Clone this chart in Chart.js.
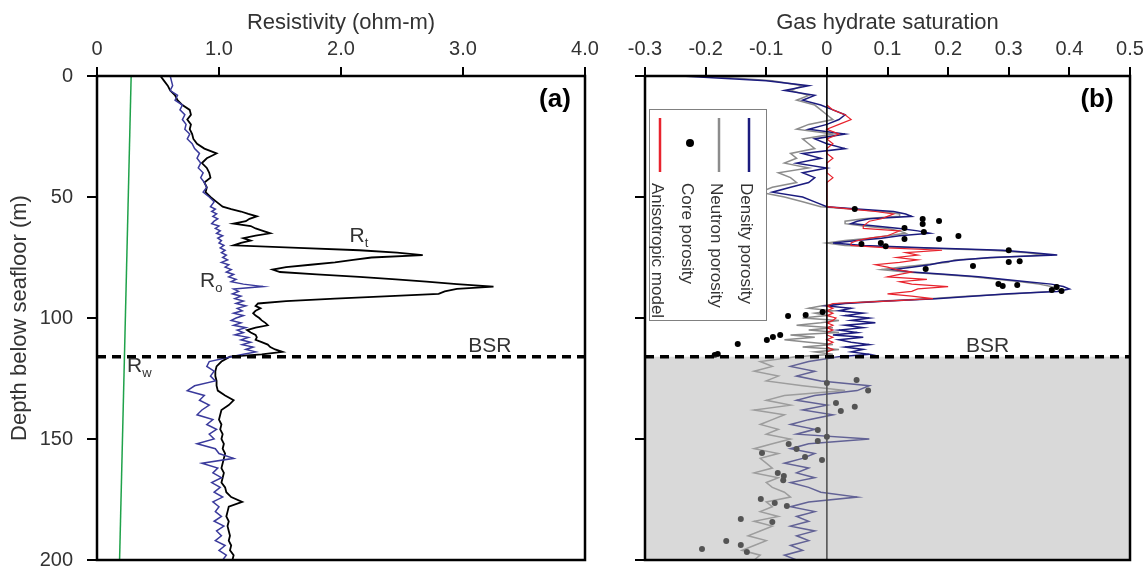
<!DOCTYPE html>
<html>
<head>
<meta charset="utf-8">
<script src="https://cdn.jsdelivr.net/npm/chart.js@4.4.1/dist/chart.umd.min.js"></script>
<style>
  html, body { margin: 0; padding: 0; background: #fff; }
  #wrap { position: relative; width: 1148px; height: 571px; overflow: hidden; }
  #chartA { position: absolute; left: 0; top: 0; }
  #chartB { position: absolute; left: 600px; top: 0; }
</style>
</head>
<body>
<div id="wrap">
  <canvas id="chartA" width="640" height="571"></canvas>
  <canvas id="chartB" width="548" height="571"></canvas>
</div>
<script>
/* Bohrloch-Logs: (a) Widerstand, (b) Gashydrat-Sättigung */

// Tiefenstützstellen (m), gemeinsam für alle Logkurven
const depth = [0, 2, 4, 6, 8, 10, 12, 14, 16, 18, 20, 22, 24, 26, 28, 30, 32, 34, 36, 38, 40, 42, 44, 46, 48, 50, 52,
  54, 55, 56, 57, 58, 59, 60, 61, 62, 63, 64, 65, 66, 67, 68, 69, 70, 71, 72, 73, 74, 75, 76, 77, 78, 79, 80,
  81, 82, 83, 84, 85, 86, 87, 88, 89, 90, 91, 92, 93, 94, 95, 96, 97, 98, 99, 100, 101, 102, 103, 104, 105,
  106, 107, 108, 109, 110, 111, 112, 113, 114, 115, 116,
  118, 120, 122, 124, 126, 128, 130, 132, 134, 136, 138, 140, 142, 144, 146, 148, 150, 152, 154, 156, 158,
  160, 162, 164, 166, 168, 170, 172, 174, 176, 178, 180, 182, 184, 186, 188, 190, 192, 194, 196, 198, 200];

// Panel (a): gemessener Widerstand Rt und Referenz Ro (ohm-m)
const rt = [0.52, 0.55, 0.58, 0.60, 0.64, 0.66, 0.70, 0.76, 0.77, 0.74, 0.77, 0.76, 0.78, 0.79, 0.82, 0.88, 0.98, 0.90, 0.86, 0.90, 0.92, 0.93, 0.88, 0.90, 0.89, 0.93, 0.98,
  1.03, 1.10, 1.18, 1.24, 1.31, 1.25, 1.22, 1.12, 1.26, 1.30,
  1.36, 1.42, 1.30, 1.20, 1.26, 1.18, 1.12, 1.65, 2.15, 2.46,
  2.67, 2.25, 2.10, 1.95, 1.75, 1.55, 1.44, 1.50, 1.80, 2.15,
  2.45, 2.70, 2.95, 3.25, 2.95, 2.85, 2.80, 2.40, 1.95, 1.55,
  1.32, 1.30, 1.34, 1.30, 1.28, 1.30, 1.33, 1.35, 1.38, 1.40,
  1.30, 1.23, 1.26, 1.30, 1.31, 1.30, 1.35, 1.40, 1.42, 1.46,
  1.52, 1.35, 1.09,
  1.02, 0.98, 0.97, 0.97, 0.98, 0.98, 0.99, 1.05, 1.12, 1.08, 1.02, 1.01, 1.00, 1.02, 1.01, 1.03, 1.02, 1.04, 1.03, 1.05, 1.04,
  1.03, 1.02, 1.04, 1.03, 1.02, 1.05, 1.06, 1.10, 1.19, 1.08, 1.07, 1.06, 1.08, 1.07, 1.08, 1.09, 1.08, 1.10, 1.09, 1.12, 1.11];

const ro = [0.60, 0.61, 0.62, 0.60, 0.66, 0.64, 0.70, 0.68, 0.72, 0.70, 0.73, 0.72, 0.76, 0.74, 0.78, 0.80, 0.84, 0.82, 0.85, 0.83, 0.87, 0.85, 0.88, 0.90, 0.87, 0.92, 0.96,
  0.93, 0.97, 0.94, 0.98, 0.95, 0.99, 0.96, 0.94, 1.00, 0.97,
  1.01, 0.98, 1.03, 0.99, 1.02, 1.00, 1.04, 1.01, 1.05, 1.02,
  1.06, 1.03, 1.07, 1.02, 1.08, 1.05, 1.10, 1.06, 1.12, 1.08,
  1.14, 1.10, 1.20, 1.36, 1.12, 1.16, 1.11, 1.18, 1.13, 1.20,
  1.14, 1.22, 1.15, 1.19, 1.12, 1.20, 1.14, 1.10, 1.18, 1.12,
  1.22, 1.15, 1.20, 1.13, 1.24, 1.18, 1.26, 1.19, 1.28, 1.22,
  1.30, 1.20, 1.10,
  0.92, 0.90, 0.96, 0.93, 0.97, 0.80, 0.74, 0.88, 0.84, 0.92, 0.86, 0.82, 0.95, 0.90, 0.98, 0.92, 0.96, 0.82, 0.97, 1.00, 1.12,
  0.86, 0.99, 0.95, 1.02, 0.94, 1.01, 0.96, 1.03, 0.95, 1.00, 0.97, 1.02, 0.96, 1.04, 0.98, 1.02, 0.97, 1.05, 1.00, 1.06, 1.03];

// Porenwasser-Widerstand Rw (Gerade)
const rwDepth = [0, 200];
const rw = [0.28, 0.185];

// Panel (b): Sättigung aus Dichte-, Neutron-Porosität und anisotropem Modell
const densitySat = [-0.24, -0.10, -0.03, -0.07, -0.02, -0.04, -0.01, 0.01, 0.03, 0.02, 0.00, -0.03, 0.03, -0.02, 0.00, 0.03, -0.04, -0.01, -0.05, 0.00, -0.04, -0.02, -0.03, -0.06, -0.09, -0.04, -0.02,
  0.00, 0.05, 0.11, 0.13, 0.14, 0.07, 0.05, 0.04, 0.08, 0.12,
  0.15, 0.17, 0.12, 0.09, 0.05, 0.01, 0.06, 0.16, 0.29, 0.34,
  0.38, 0.27, 0.22, 0.19, 0.17, 0.14, 0.11, 0.14, 0.20, 0.25,
  0.29, 0.33, 0.37, 0.39, 0.40, 0.38, 0.30, 0.24, 0.18, 0.10,
  0.03, 0.00, 0.04, 0.02, 0.06, 0.03, 0.07, 0.04, 0.08, 0.03,
  0.06, 0.02, 0.05, 0.01, 0.06, 0.02, 0.04, 0.07, 0.03, 0.06,
  0.04, 0.07, 0.02,
  -0.03, -0.06, -0.02, -0.05, -0.01, 0.07, 0.05, -0.02, -0.05, 0.00, -0.04, 0.01, -0.03, -0.06, -0.02, -0.05, 0.07, -0.03, -0.06, -0.02,
  -0.04, -0.07, -0.03, -0.05, -0.02, -0.06, -0.03, -0.01, 0.05, -0.03, -0.06, -0.02, -0.05, -0.03, -0.06, -0.02, -0.05, -0.03, -0.06, -0.04, -0.07, -0.05];

const neutronSat = [-0.20, -0.09, -0.04, -0.06, -0.03, -0.05, -0.02, -0.01, 0.00, 0.01, -0.03, -0.05, 0.01, -0.04, -0.03, -0.02, -0.06, -0.05, -0.07, -0.03, -0.08, -0.06, -0.05, -0.09, -0.11, -0.07, -0.04,
  -0.01, 0.04, 0.09, 0.12, 0.12, 0.06, 0.03, 0.03, 0.06, 0.10,
  0.12, 0.13, 0.10, 0.07, 0.03, 0.00, 0.03, 0.14, 0.27, 0.33,
  0.36, 0.28, 0.21, 0.20, 0.16, 0.12, 0.09, 0.13, 0.19, 0.24,
  0.28, 0.32, 0.35, 0.37, 0.38, 0.37, 0.31, 0.23, 0.17, 0.09,
  0.02, -0.01, -0.03, 0.01, -0.02, 0.00, -0.04, 0.02, -0.01, -0.05,
  0.01, -0.03, 0.02, -0.06, -0.02, -0.07, -0.03, 0.01, -0.04, 0.02,
  -0.02, 0.01, -0.05,
  -0.11, -0.09, -0.12, -0.08, -0.10, -0.04, 0.03, -0.07, -0.10, -0.06, -0.12, -0.07, -0.09, -0.11, -0.08, -0.10, -0.06, -0.09, -0.12, -0.08,
  -0.11, -0.10, -0.09, -0.12, -0.08, -0.10, -0.09, -0.07, -0.06, -0.10, -0.09, -0.11, -0.08, -0.12, -0.09, -0.11, -0.13, -0.10, -0.12, -0.14, -0.11, -0.12];

// Modell nur zwischen 12 m und BSR (null = kein Wert)
const modelSat = [null, null, null, null, null, null, 0.00, 0.01, 0.03, 0.04, 0.02, 0.00, 0.02, 0.00, 0.01, 0.00, 0.00, 0.01, 0.00, 0.00, 0.00, 0.01, 0.00, 0.00, 0.00, 0.00, 0.00,
  0.00, 0.04, 0.08, 0.11, 0.10, 0.09, 0.07, 0.065, 0.06, 0.06,
  0.12, 0.11, 0.10, 0.07, 0.05, 0.04, 0.04, 0.10, 0.19, 0.13,
  0.15, 0.115, 0.15, 0.12, 0.08, 0.10, 0.115, 0.14, 0.12, 0.10,
  0.165, 0.12, 0.14, 0.20, 0.15, 0.14, 0.10, 0.14, 0.175, 0.10,
  0.01, 0.00, 0.01, 0.00, 0.01, 0.00, 0.015, 0.01, 0.00, 0.01,
  0.00, 0.01, 0.00, 0.00, 0.01, 0.00, 0.01, 0.00, 0.00, 0.01,
  0.00, 0.00, 0.00,
  null, null, null, null, null, null, null, null, null, null, null, null, null, null, null, null, null, null, null, null, null,
  null, null, null, null, null, null, null, null, null, null, null, null, null, null, null, null, null, null, null, null, null];

// Kernporositäts-Punkte
const coreDepth = [55.0, 59.1, 59.9, 61.2, 62.8, 64.5, 66.1, 67.4, 67.4, 69.0, 69.4, 70.4, 72.0, 76.5, 76.9, 78.5, 79.8,
  86.0, 86.4, 86.8, 87.2, 88.4, 88.8, 97.5, 98.8, 99.2, 107.0, 107.9, 109.1, 110.7, 114.9, 115.3,
  125.6, 126.9, 130.0, 135.1, 136.7, 138.4, 146.3, 149.1, 150.8, 152.1, 154.1, 155.8, 157.4, 158.7,
  164.0, 165.3, 167.0, 174.8, 176.4, 177.7, 183.1, 184.3, 192.1, 193.8, 195.5, 196.7];
const coreSat = [0.046, 0.158, 0.185, 0.158, 0.128, 0.160, 0.217, 0.185, 0.128, 0.089, 0.057, 0.097, 0.300, 0.318, 0.300, 0.241, 0.163,
  0.283, 0.314, 0.290, 0.379, 0.371, 0.387, -0.007, -0.035, -0.064, -0.077, -0.089, -0.099, -0.147, -0.180, -0.185,
  0.049, 0.000, 0.068, 0.015, 0.046, 0.023, -0.015, 0.000, -0.015, -0.063, -0.050, -0.107, -0.036, -0.008,
  -0.081, -0.071, -0.072, -0.109, -0.086, -0.066, -0.142, -0.090, -0.166, -0.142, -0.206, -0.132];

// Nulllinie in (b)
const zeroDepth = [0, 200];
const zeroSat = [0, 0];

const bsrDepth = 116;

const depthTicks = [0, 50, 100, 150, 200];
const depthTickLabels = ["0", "50", "100", "150", "200"];
const resTicks = [0, 1, 2, 3, 4];
const resTickLabels = ["0", "1.0", "2.0", "3.0", "4.0"];
const satTicks = [-0.3, -0.2, -0.1, 0, 0.1, 0.2, 0.3, 0.4, 0.5];
const satTickLabels = ["-0.3", "-0.2", "-0.1", "0", "0.1", "0.2", "0.3", "0.4", "0.5"];

const legendLabels = ["Density porosity", "Neutron porosity", "Core porosity", "Anisotropic model"];

const FONT = "'Liberation Sans', Arial, Helvetica, sans-serif";
const TXT = "#333";
const C = {
  rt: "#000000",
  ro: "#3a3a9c",
  rw: "#1fa24a",
  density: "#1b1b7e",
  neutron: "#8c8c8c",
  core: "#000000",
  model: "#e8232d",
};

// Wertepaare {x: Wert, y: Tiefe}, fehlende Werte raus
function pts(values, depths) {
  return depths.map((d, i) => ({ x: values[i], y: d })).filter((p) => p.x !== null);
}

function topAxis(min, max, ticks, labels, title) {
  return {
    type: "linear", position: "top", min: min, max: max,
    afterBuildTicks: (s) => { s.ticks = ticks.map((v) => ({ value: v })); },
    afterFit: (s) => { s.height = 76; s.paddingLeft = 0; s.paddingRight = 0; },
    ticks: {
      callback: (v, i) => labels[i], autoSkip: false, maxRotation: 0,
      font: { family: FONT, size: 20 }, color: TXT, padding: 6,
    },
    grid: { drawOnChartArea: false, tickLength: 9, color: "#000", lineWidth: 2 },
    border: { display: false },
    title: { display: true, text: title, color: TXT, font: { family: FONT, size: 22 }, padding: { top: 10, bottom: 0 } },
  };
}

function depthAxis(width, withLabels) {
  return {
    type: "linear", position: "left", min: 0, max: 200, reverse: true,
    afterBuildTicks: (s) => { s.ticks = depthTicks.map((v) => ({ value: v })); },
    afterFit: (s) => { s.width = width; s.paddingTop = 0; s.paddingBottom = 0; },
    ticks: {
      display: withLabels, callback: (v, i) => depthTickLabels[i], autoSkip: false,
      font: { family: FONT, size: 20 }, color: TXT, padding: 14,
    },
    grid: { drawOnChartArea: false, tickLength: 10, color: "#000", lineWidth: 2 },
    border: { display: false },
    title: {
      display: withLabels, text: "Depth below seafloor (m)", color: TXT,
      font: { family: FONT, size: 22 }, padding: { top: 7, bottom: 0 },
    },
  };
}

function baseOptions(padRight, xScale, yScale) {
  return {
    indexAxis: "y",
    responsive: false,
    animation: false,
    events: [],
    layout: { padding: { left: 0, top: 0, right: padRight, bottom: 11 } },
    plugins: { legend: { display: false }, tooltip: { enabled: false } },
    elements: { point: { radius: 0 }, line: { tension: 0 } },
    scales: { x: xScale, y: yScale },
  };
}

function drawBsr(ctx, a, y) {
  const py = y.getPixelForValue(bsrDepth);
  ctx.save();
  ctx.strokeStyle = "#000";
  ctx.lineWidth = 3.5;
  ctx.setLineDash([9, 6]);
  ctx.beginPath();
  ctx.moveTo(a.left, py);
  ctx.lineTo(a.right, py);
  ctx.stroke();
  ctx.restore();
  return py;
}

function drawFrame(ctx, a) {
  ctx.save();
  ctx.strokeStyle = "#000";
  ctx.lineWidth = 2.5;
  ctx.strokeRect(a.left, a.top, a.right - a.left, a.bottom - a.top);
  ctx.restore();
}

// "R" mit tiefgestelltem Index
function subLabel(ctx, main, sub, px, py) {
  ctx.font = `21px ${FONT}`;
  ctx.textAlign = "left";
  ctx.textBaseline = "alphabetic";
  ctx.fillText(main, px, py);
  const w = ctx.measureText(main).width;
  ctx.font = `13px ${FONT}`;
  ctx.fillText(sub, px + w, py + 5);
}

function textAt(ctx, txt, px, py, font) {
  ctx.font = font;
  ctx.textAlign = "center";
  ctx.textBaseline = "alphabetic";
  ctx.fillText(txt, px, py);
}

const panelA = {
  id: "panelA",
  afterDatasetsDraw(chart) {
    const { ctx, chartArea: a, scales: { x, y } } = chart;
    drawBsr(ctx, a, y);
    drawFrame(ctx, a);
    ctx.save();
    ctx.fillStyle = TXT;
    subLabel(ctx, "R", "t", x.getPixelForValue(2.07), y.getPixelForValue(68.6));
    subLabel(ctx, "R", "o", x.getPixelForValue(0.845), y.getPixelForValue(87.2));
    subLabel(ctx, "R", "w", x.getPixelForValue(0.246), y.getPixelForValue(122.3));
    textAt(ctx, "BSR", x.getPixelForValue(3.22), y.getPixelForValue(114), `21px ${FONT}`);
    ctx.fillStyle = "#000";
    textAt(ctx, "(a)", a.right - 30, a.top + 31, `bold 26px ${FONT}`);
    ctx.restore();
  },
};

const panelB = {
  id: "panelB",
  afterDatasetsDraw(chart) {
    const { ctx, chartArea: a, scales: { x, y } } = chart;
    const py = y.getPixelForValue(bsrDepth);
    // Bereich unterhalb BSR grau abdecken
    ctx.save();
    ctx.fillStyle = "rgba(176,176,176,0.48)";
    ctx.fillRect(a.left, py, a.right - a.left, a.bottom - py);
    ctx.restore();
    drawBsr(ctx, a, y);
    drawFrame(ctx, a);

    ctx.save();
    ctx.fillStyle = TXT;
    textAt(ctx, "BSR", x.getPixelForValue(0.265), y.getPixelForValue(114), `21px ${FONT}`);
    ctx.fillStyle = "#000";
    textAt(ctx, "(b)", a.right - 33, a.top + 31, `bold 26px ${FONT}`);

    // gedrehte Legende (um 90° im Uhrzeigersinn)
    const bx = a.left + 4, by = a.top + 33, bw = 117, bh = 211;
    ctx.fillStyle = "#fff";
    ctx.fillRect(bx, by, bw, bh);
    ctx.strokeStyle = "#808080";
    ctx.lineWidth = 1;
    ctx.strokeRect(bx + 0.5, by + 0.5, bw, bh);
    const cols = [100, 70, 41, 11];
    const colors = [C.density, C.neutron, C.core, C.model];
    legendLabels.forEach((lab, i) => {
      const cx = bx + cols[i];
      if (i === 2) {
        ctx.fillStyle = colors[i];
        ctx.beginPath();
        ctx.arc(cx, by + 34, 4, 0, Math.PI * 2);
        ctx.fill();
      } else {
        ctx.strokeStyle = colors[i];
        ctx.lineWidth = 2.5;
        ctx.beginPath();
        ctx.moveTo(cx, by + 9);
        ctx.lineTo(cx, by + 63);
        ctx.stroke();
      }
      ctx.save();
      ctx.translate(cx - 3, by + 74);
      ctx.rotate(Math.PI / 2);
      ctx.fillStyle = TXT;
      ctx.font = `17px ${FONT}`;
      ctx.textAlign = "left";
      ctx.textBaseline = "middle";
      ctx.fillText(lab, 0, 0);
      ctx.restore();
    });
    ctx.restore();
  },
};

new Chart(document.getElementById("chartA"), {
  type: "line",
  data: {
    datasets: [
      { data: pts(ro, depth), borderColor: C.ro, borderWidth: 1.5 },
      { data: pts(rt, depth), borderColor: C.rt, borderWidth: 1.8 },
      { data: pts(rw, rwDepth), borderColor: C.rw, borderWidth: 1.5 },
    ],
  },
  options: baseOptions(55, topAxis(0, 4, resTicks, resTickLabels, "Resistivity (ohm-m)"), depthAxis(97, true)),
  plugins: [panelA],
});

new Chart(document.getElementById("chartB"), {
  type: "line",
  data: {
    datasets: [
      { data: pts(zeroSat, zeroDepth), borderColor: "#000", borderWidth: 1.6 },
      { data: pts(coreSat, coreDepth), showLine: false, pointRadius: 3, pointBackgroundColor: C.core, pointBorderWidth: 0 },
      { data: pts(modelSat, depth), borderColor: C.model, borderWidth: 1.2 },
      { data: pts(densitySat, depth), borderColor: C.density, borderWidth: 1.5 },
      { data: pts(neutronSat, depth), borderColor: C.neutron, borderWidth: 1.5 },
    ],
  },
  options: baseOptions(18, topAxis(-0.3, 0.5, satTicks, satTickLabels, "Gas hydrate saturation"), depthAxis(45, false)),
  plugins: [panelB],
});
</script>
</body>
</html>
